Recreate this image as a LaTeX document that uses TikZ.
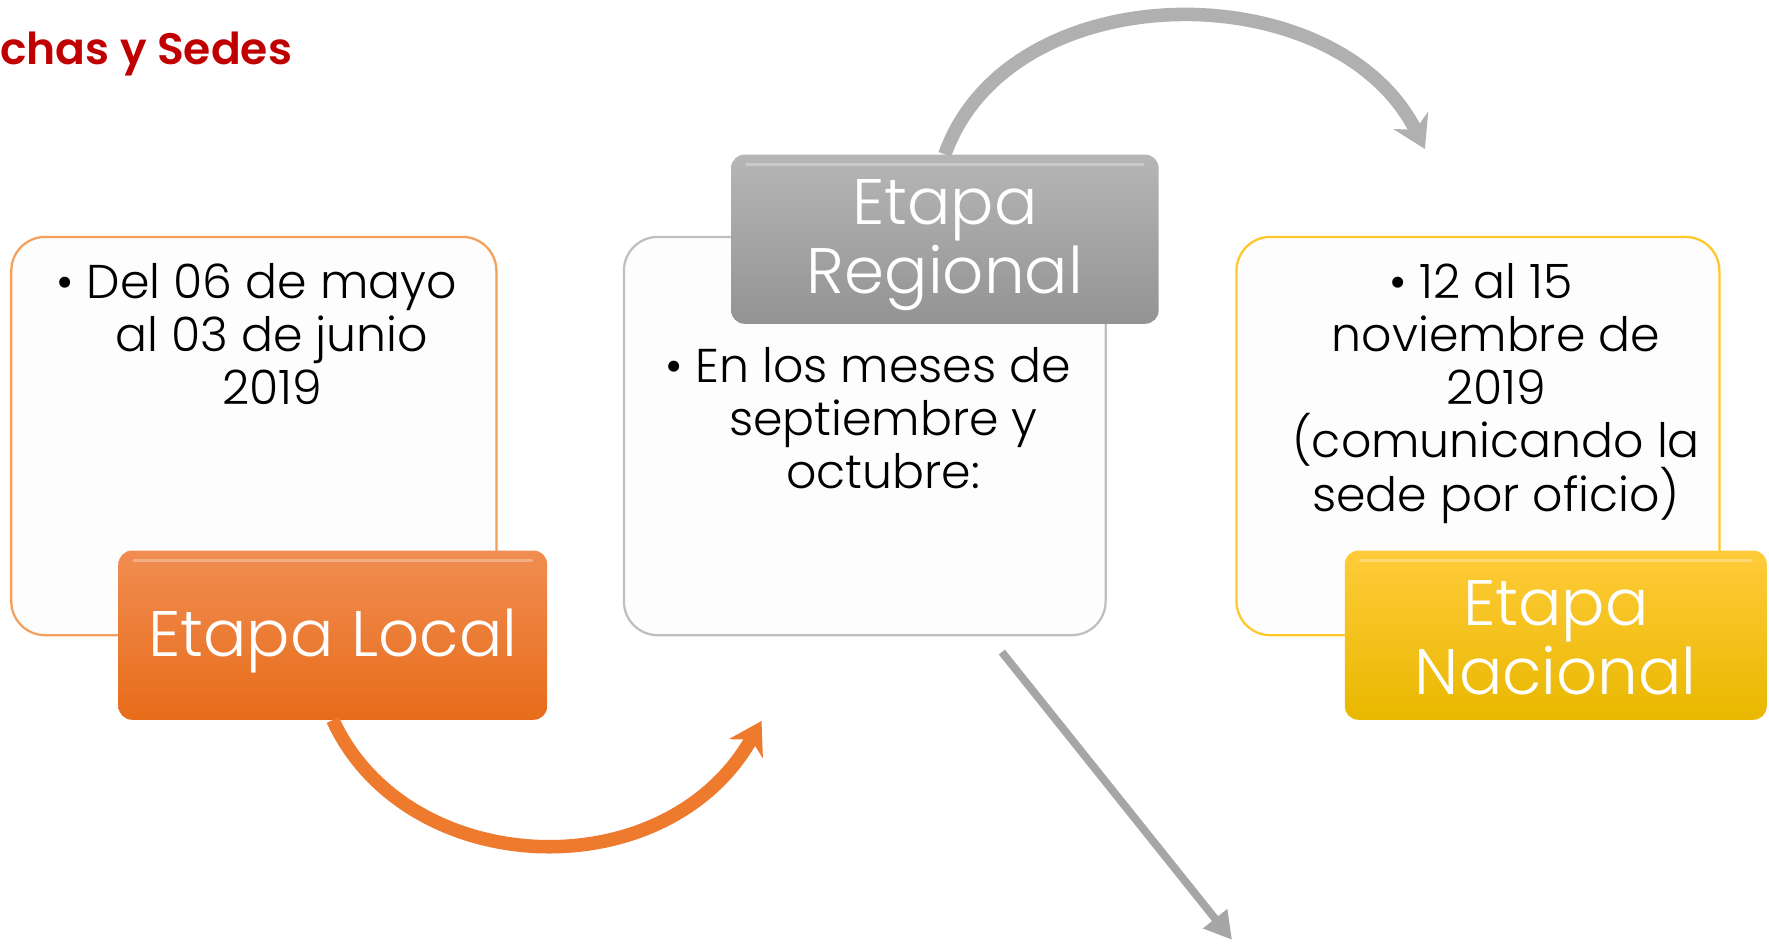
\documentclass[tikz,border=0pt]{standalone}
\usepackage{fontspec}
\setmainfont{Poppins}[UprightFont=* Light, BoldFont=* SemiBold]
\usetikzlibrary{arrows.meta,calc}
\definecolor{titlered}{HTML}{C00000}
\definecolor{orbord}{HTML}{F5A05A}
\definecolor{grbord}{HTML}{BFBFBF}
\definecolor{gdbord}{HTML}{FFC72C}
\definecolor{ortop}{HTML}{F18D52}
\definecolor{orbot}{HTML}{E76C19}
\definecolor{grtop}{HTML}{B6B6B6}
\definecolor{grbot}{HTML}{939393}
\definecolor{gdtop}{HTML}{FFCB3A}
\definecolor{gdbot}{HTML}{E9B800}
\definecolor{arror}{HTML}{EE7A2E}
\definecolor{arrgr}{HTML}{B0B0B0}
\definecolor{arrst}{HTML}{A6A6A6}
\definecolor{boxfill}{HTML}{FDFDFD}
\begin{document}
\begin{tikzpicture}[x=1pt,y=-1pt,
  tbox/.style={draw, line width=2pt, rounded corners=30pt, fill=boxfill, inner sep=0pt},
  lbl/.style={draw=none, rounded corners=12pt, inner sep=0pt},
  htxt/.style={text=white, align=center, inner sep=0pt, font=\fontsize{57}{61}\selectfont},
  btxt/.style={align=center, inner sep=0pt, anchor=north, text=black,
    font=\fontsize{42}{47}\selectfont},
  curvarrow/.style={line width=12pt, -{Stealth[length=28pt,width=34pt]}},
  shine/.style={line width=3pt, white, opacity=0.3, line cap=round},
]
\useasboundingbox (0,0) rectangle (1568,836);
\clip (0,0) rectangle (1568,836);

\node[anchor=base west, inner sep=0pt, text=titlered, font=\bfseries\fontsize{39}{46}\selectfont] (title) at (0,57) {chas y Sedes};

% text boxes
\node[tbox, draw=orbord, minimum width=430pt, minimum height=353pt] (b1) at (225,386.5) {};
\node[tbox, draw=grbord, minimum width=427pt, minimum height=353pt] (b2) at (766.5,386.5) {};
\node[tbox, draw=gdbord, minimum width=428pt, minimum height=353pt] (b3) at (1310,386.5) {};

\node[btxt] (t1) at (241,233) {\llap{\textbullet\ }Del 06 de mayo\\al 03 de junio\\2019};
\node[btxt] (t2) at (783,308) {\llap{\textbullet\ }En los meses de\\septiembre y\\octubre:};
\node[btxt] (t3) at (1326,233) {\llap{\textbullet\ }12 al 15\\noviembre de\\2019\\(comunicando la\\sede por oficio)};

% connectors
\coordinate (a1end) at (675,639);
\coordinate (a2end) at (1263,132);
\coordinate (a3s) at (888,578);
\coordinate (a3e) at (1092,833);

% label shapes
\node[lbl, top color=ortop, bottom color=orbot, minimum width=380pt, minimum height=150pt] (l1) at (295,563) {};
\node[lbl, top color=grtop, bottom color=grbot, minimum width=379pt, minimum height=150pt] (l2) at (837.5,212) {};
\node[lbl, top color=gdtop, bottom color=gdbot, minimum width=374pt, minimum height=150pt] (l3) at (1379,563) {};
\foreach \n in {l1,l2,l3}{
  \draw[shine] ($(\n.north west)+(14,9)$) -- ($(\n.north east)+(-14,9)$);
}
% label texts
\node[htxt] (h1) at ($(l1.center)+(0,5)$) {Etapa Local};
\node[htxt] (h2) at ($(l2.center)+(0,5)$) {Etapa\\Regional};
\node[htxt] (h3) at ($(l3.center)+(0,2)$) {Etapa\\Nacional};

\draw[curvarrow, draw=arror] (l1.south) .. controls (360,780) and (590,790) .. (a1end);
\draw[curvarrow, draw=arrgr] (l2.north) .. controls (895,-25) and (1185,-25) .. (a2end);
\draw[line width=7pt, draw=arrst, -{Triangle[length=24pt,width=26pt]}] (a3s) -- (a3e);
\end{tikzpicture}
\end{document}
